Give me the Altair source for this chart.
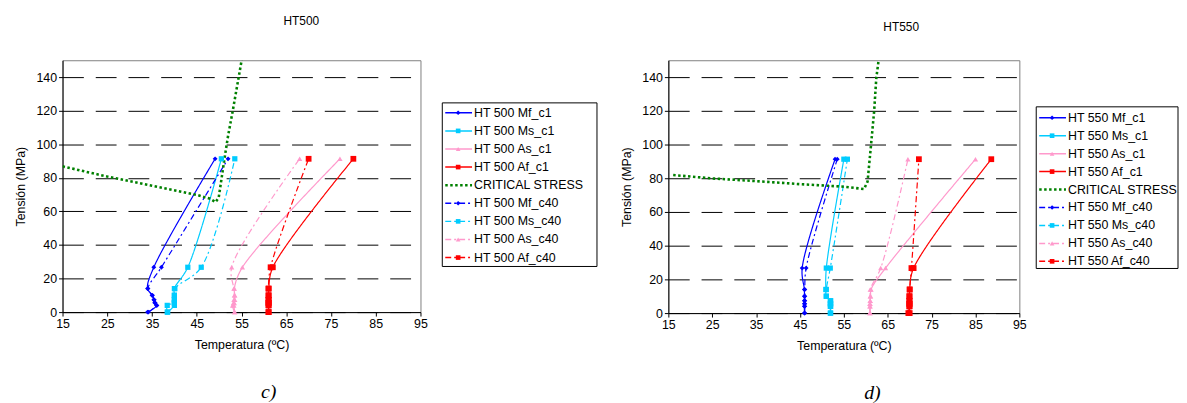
import altair as alt
import pandas as pd

# ---------------- data ----------------
stress = [0, 4, 5.5, 7.3, 10, 14, 26.7, 91.3]

# HT500 temperatures for each stress level
ht500_mf_c1 = [34.0, 36.1, 35.6, 35.5, 35.1, 34.0, 35.4, 49.1]
ht500_ms_c1 = [38.5, 40.0, 40.0, 40.0, 40.0, 40.0, 43.0, 50.5]
ht500_as_c1 = [53.5, 53.3, 53.4, 53.5, 53.5, 53.4, 55.2, 77.0]
ht500_af_c1 = [61.1, 61.1, 61.1, 61.1, 61.1, 61.1, 62.0, 80.0]
ht500_mf_c40 = [34.2, 36.0, 35.7, 35.4, 35.0, 34.1, 37.1, 52.0]
ht500_ms_c40 = [38.4, 38.4, 40.0, 40.0, 40.0, 40.1, 46.0, 53.5]
ht500_as_c40 = [53.4, 53.0, 53.2, 53.3, 53.4, 53.3, 52.8, 68.0]
ht500_af_c40 = [61.0, 61.0, 61.0, 61.0, 61.0, 61.0, 61.5, 70.0]
crit500_t = [15, 25, 35, 45, 48, 49.2, 49.9, 50.45, 51.2, 52.0, 53.1, 54.0, 55.1]
crit500_s = [86.8, 80.7, 75.3, 69.8, 67.5, 65.5, 68.2, 77.9, 91.5, 105, 120.7, 134.4, 151]

# HT550
ht550_mf_c1 = [46.0, 46.0, 46.0, 46.0, 46.0, 46.0, 45.5, 53.0]
ht550_ms_c1 = [51.9, 51.9, 51.9, 51.9, 51.0, 50.9, 51.0, 55.0]
ht550_as_c1 = [61.0, 61.0, 61.0, 61.0, 61.1, 61.2, 64.5, 85.0]
ht550_af_c1 = [70.0, 70.0, 70.0, 70.0, 70.0, 70.0, 70.9, 88.6]
ht550_mf_c40 = [46.1, 46.1, 46.1, 46.1, 46.1, 46.1, 46.4, 53.5]
ht550_ms_c40 = [52.0, 52.0, 52.0, 52.0, 51.0, 51.0, 51.9, 55.8]
ht550_as_c40 = [60.9, 60.9, 60.9, 61.0, 61.0, 61.0, 63.4, 69.6]
ht550_af_c40 = [69.7, 69.9, 69.9, 69.9, 69.9, 70.0, 70.4, 72.1]
crit550_t = [16.1, 25, 35, 45, 55, 59.6, 60.4, 61.2, 61.9, 62.4, 63.0]
crit550_s = [81.9, 79.9, 78.3, 76.5, 75.0, 73.6, 78.0, 100, 119.7, 139.6, 151.5]

x_ticks = [15, 25, 35, 45, 55, 65, 75, 85, 95]
y_ticks = [0, 20, 40, 60, 80, 100, 120, 140]

phases = ["Mf", "Ms", "As", "Af"]
phase_colors = ["#0000FF", "#00CCFF", "#FF99CC", "#FF0000"]
phase_shapes = ["diamond", "square", "triangle-up", "square"]
phase_sizes = [24, 28, 28, 34]
DASH_C1 = [1, 0]
DASH_C40 = [6, 3, 2, 3]
CRIT_DASH = [2.5, 2.5]
GREEN = "#008000"
FONT = "Liberation Sans"


def build(ht, c1, c40, crit_t, crit_s, width, height, legend_w, box_rows, dom_rows,
          title, title_offset, title_dx, caption, cap_dx, cap_offset, spacing):
    names = [f"HT {ht} {p}_c1" for p in phases] + [f"HT {ht} {p}_c40" for p in phases]
    series_vals = c1 + c40
    rows = []
    for name, vals in zip(names, series_vals):
        for i, (t, s) in enumerate(zip(vals, stress)):
            rows.append({"series": name, "temp": t, "stress": s, "idx": i})
    df = pd.DataFrame(rows)
    colors = phase_colors + phase_colors
    shapes = phase_shapes + phase_shapes
    dashes = [DASH_C1] * 4 + [DASH_C40] * 4

    xenc = alt.X("temp:Q", scale=alt.Scale(domain=[15, 95], nice=False, zero=False),
                 axis=alt.Axis(values=x_ticks, title="Temperatura (ºC)", grid=False, labelFlush=False))
    yenc = alt.Y("stress:Q", scale=alt.Scale(domain=[0, 150], nice=False),
                 axis=alt.Axis(values=y_ticks, title="Tensión (MPa)", grid=True, tickCount=8,
                               labelOverlap=False, labelFlush=False,
                               gridDash=[21, 12], gridColor="black", gridWidth=1))
    cenc = alt.Color("series:N", scale=alt.Scale(domain=names, range=colors), legend=None)

    lines = alt.Chart(df).mark_line(strokeWidth=1.2, interpolate="catmull-rom").encode(
        x=xenc, y=yenc, color=cenc,
        strokeDash=alt.StrokeDash("series:N", scale=alt.Scale(domain=names, range=dashes), legend=None),
        order="idx:Q",
        detail="series:N",
    )
    pts = []
    for k, name in enumerate(names):
        pts.append(
            alt.Chart(df[df["series"] == name]).mark_point(
                filled=True, opacity=1, shape=shapes[k], size=phase_sizes[k % 4], color=colors[k]
            ).encode(x=xenc, y=yenc)
        )
    crit_df = pd.DataFrame({"temp": crit_t, "stress": crit_s, "idx": list(range(len(crit_t)))})
    crit = alt.Chart(crit_df).mark_line(color=GREEN, strokeDash=CRIT_DASH, strokeWidth=2.6, clip=True).encode(
        x=xenc, y=yenc, order="idx:Q"
    )
    plot = alt.layer(lines, crit, *pts).properties(width=width, height=height)

    # ---- legend panel ----
    leg_names = names[:4] + ["CRITICAL STRESS"] + names[4:]
    leg_colors = phase_colors + [GREEN] + phase_colors
    leg_shapes = phase_shapes + [None] + phase_shapes
    leg_dash = [DASH_C1] * 4 + [CRIT_DASH] + [DASH_C40] * 4
    ldf = pd.DataFrame({"row": list(range(9)), "label": leg_names})
    ysc = alt.Scale(domain=dom_rows, reverse=True, nice=False, zero=False)
    box = alt.Chart(pd.DataFrame({"r0": [box_rows[0]], "r1": [box_rows[1]]})).mark_rect(
        fill="white", stroke="black", strokeWidth=1
    ).encode(y=alt.Y("r0:Q", scale=ysc, axis=None), y2="r1:Q", x=alt.value(0), x2=alt.value(legend_w))
    leg_layers = [box]
    for k in range(9):
        sub = ldf[ldf["row"] == k]
        sw = 2.6 if k == 4 else 1.5
        leg_layers.append(
            alt.Chart(sub).mark_rule(color=leg_colors[k], strokeDash=leg_dash[k], strokeWidth=sw).encode(
                y=alt.Y("row:Q", scale=ysc, axis=None), x=alt.value(3), x2=alt.value(30)
            )
        )
        if leg_shapes[k] is not None:
            leg_layers.append(
                alt.Chart(sub).mark_point(filled=True, opacity=1, shape=leg_shapes[k], size=22,
                                          color=leg_colors[k]).encode(
                    y=alt.Y("row:Q", scale=ysc, axis=None), x=alt.value(16)
                )
            )
    leg_layers.append(
        alt.Chart(ldf).mark_text(align="left", baseline="middle", fontSize=12.5, font=FONT, color="black").encode(
            y=alt.Y("row:Q", scale=ysc, axis=None), x=alt.value(32), text="label:N"
        )
    )
    legend = alt.layer(*leg_layers).properties(width=legend_w, height=height,
                                                view=alt.ViewConfig(stroke="transparent"))

    inner = alt.hconcat(plot, legend, spacing=spacing).properties(
        title=alt.Title(title, fontSize=12, fontWeight="normal", font=FONT, anchor="middle",
                        offset=title_offset, dx=title_dx)
    )
    outer = alt.hconcat(inner).properties(
        title=alt.Title(caption, orient="bottom", fontSize=20, fontStyle="italic", fontWeight="normal",
                        font="Liberation Serif", anchor="middle", dx=cap_dx, offset=cap_offset)
    )
    return outer


left = build(500,
             [ht500_mf_c1, ht500_ms_c1, ht500_as_c1, ht500_af_c1],
             [ht500_mf_c40, ht500_ms_c40, ht500_as_c40, ht500_af_c40],
             crit500_t, crit500_s, 361, 254, 156,
             [-0.548, 8.493], [-2.904, 11.014], "HT500", 32, -5, "c)", -38, 31, 13)
right = build(550,
              [ht550_mf_c1, ht550_ms_c1, ht550_as_c1, ht550_af_c1],
              [ht550_mf_c40, ht550_ms_c40, ht550_as_c40, ht550_af_c40],
              crit550_t, crit550_s, 354, 255, 143,
              [-0.608, 8.398], [-3.204, 10.884], "HT550", 26, 1.5, "d)", -27.5, 31, 8)

chart = alt.hconcat(left, right, spacing=22).properties(
    padding={"left": 6, "top": 5, "right": 0, "bottom": 0}
).configure(font=FONT).configure_view(stroke="#808080", strokeWidth=1).configure_axis(
    labelFont=FONT, titleFont=FONT, labelFontSize=12.5, titleFontSize=12.5, titleFontWeight="normal",
    labelColor="black", titleColor="black", domainColor="black", tickColor="black", tickSize=4,
    labelPadding=2, titlePadding=8, domainWidth=1
)

chart.save("out.html", embed_options={"renderer": "svg", "actions": False})
